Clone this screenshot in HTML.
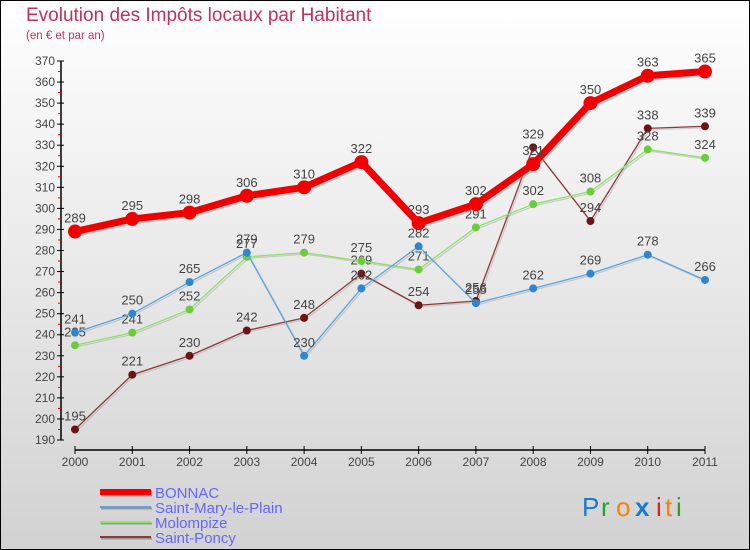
<!DOCTYPE html>
<html><head><meta charset="utf-8"><style>
body{margin:0}
#c{width:750px;height:550px;position:relative;overflow:hidden}
svg text{font-family:"Liberation Sans",sans-serif}
</style></head><body>
<div id="c">
<svg id="s" width="750" height="550" xmlns="http://www.w3.org/2000/svg">
<defs><linearGradient id="bg" x1="0" y1="0" x2="0" y2="1"><stop offset="0" stop-color="#ffffff"/><stop offset="1" stop-color="#d2d2d2"/></linearGradient></defs>
<rect x="0.5" y="0.5" width="749" height="549" fill="url(#bg)" stroke="#000"/>
<text x="26" y="21" font-size="19" fill="#c0305a">Evolution des Impôts locaux par Habitant</text>
<text x="26" y="39" font-size="11.5" fill="#c0305a">(en € et par an)</text>
<g id="axes"></g><g id="series"></g><g id="legend"></g>
<g font-size="26">
<text x="582" y="516" fill="#1a7ad0">P</text><text x="601" y="516" fill="#2ca02c">r</text><text x="616" y="516" fill="#ff8000">o</text><text x="635" y="516" fill="#1a7ad0" font-weight="bold">x</text><text x="656" y="516" fill="#e02020">i</text><text x="665" y="516" fill="#ff8000">t</text><text x="676" y="516" fill="#2ca02c">i</text>
</g>
</svg></div>
<script>
const years=["2000","2001","2002","2003","2004","2005","2006","2007","2008","2009","2010","2011"];
const bonnac=[289,295,298,306,310,322,293,302,321,350,363,365];
const mary=[241,250,265,279,230,262,282,255,262,269,278,266];
const molompize=[235,241,252,277,279,275,271,291,302,308,328,324];
const poncy=[195,221,230,242,248,269,254,256,329,294,338,339];
const yTicks=[190,200,210,220,230,240,250,260,270,280,290,300,310,320,330,340,350,360,370];
const NS="http://www.w3.org/2000/svg";
const X=i=>75+i*(630/11);
const Y=v=>440-(v-190)*(379/180);
function mk(t,a,p){const e=document.createElementNS(NS,t);for(const k in a)e.setAttribute(k,a[k]);p.appendChild(e);return e;}
const ax=document.getElementById('axes');
const yl=mk('line',{x1:61,y1:Y(370),x2:61,y2:Y(190),stroke:'#000','stroke-width':1.5},ax);


yTicks.forEach(v=>{
 mk('line',{x1:57,y1:Y(v),x2:64,y2:Y(v),stroke:'#000'},ax);
 if(v<370) mk('line',{x1:58,y1:Y(v+5),x2:61,y2:Y(v+5),stroke:'#e00'},ax);
 const t=mk('text',{x:55,y:Y(v)+4,'font-size':12,fill:'#444','text-anchor':'end'},ax);t.textContent=v;
 
 
});
const xl=mk('line',{x1:75,y1:450,x2:705,y2:450,stroke:'#000','stroke-width':1.5},ax);


years.forEach((y,i)=>{
 mk('line',{x1:X(i),y1:446,x2:X(i),y2:454,stroke:'#000'},ax);
 const t=mk('text',{x:X(i),y:466,'font-size':12,fill:'#444','text-anchor':'middle'},ax);t.textContent=y;
 
 
});
const sg=document.getElementById('series');
function draw(vals,color,dot,w,r,name){
 const g=mk('g',{},sg);
 
 
 const pts=vals.map((v,i)=>X(i)+','+Y(v)).join(' ');
 mk('polyline',{points:pts,fill:'none',stroke:'#999','stroke-opacity':0.4,'stroke-width':w,transform:'translate(1.5,1.5)','stroke-linejoin':'round'},g);
 mk('polyline',{points:pts,fill:'none',stroke:color,'stroke-width':w,'stroke-linejoin':'round'},g);
 vals.forEach((v,i)=>{
  const c=mk('circle',{cx:X(i),cy:Y(v),r:r,fill:dot},g);
  
  
  const t=mk('text',{x:X(i),y:Y(v)-9,'font-size':13,fill:'#444','text-anchor':'middle'},g);t.textContent=v;
  
  
 });
}
draw(poncy,'#8b3a3a','#6b1414',1.3,4,'saint-poncy-series');
draw(molompize,'#8ee26a','#6ccc3c',1.3,4,'molompize-series');
draw(mary,'#5aa5dd','#2f86cc',1.3,4,'saint-mary-series');
draw(bonnac,'#f00000','#f00000',7,7,'bonnac-series');
const lg=document.getElementById('legend');
[['BONNAC','#f00000',6],['Saint-Mary-le-Plain','#5aa5dd',2],['Molompize','#8ee26a',2],['Saint-Poncy','#8b3a3a',2]].forEach((d,i)=>{
 const y=492+i*15;
 const g=mk('g',{},lg);
 
 
 mk('line',{x1:101,y1:y+1.5,x2:152,y2:y+1.5,stroke:'#999','stroke-width':d[2]},g);
 mk('line',{x1:100,y1:y,x2:151,y2:y,stroke:d[1],'stroke-width':d[2]},g);
 const t=mk('text',{x:155,y:y+6,'font-size':15,fill:'#6666ff'},g);t.textContent=d[0];
});
</script>
</body></html>
